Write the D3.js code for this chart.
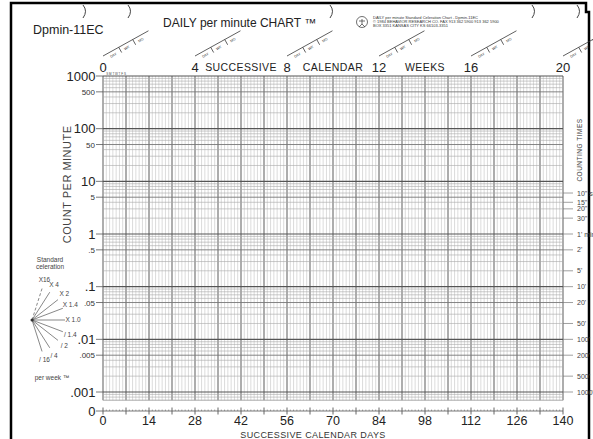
<!DOCTYPE html>
<html>
<head>
<meta charset="utf-8">
<script src="https://cdn.jsdelivr.net/npm/d3@7"></script>
<style>
  body { margin: 0; background: #fff; }
  svg { display: block; font-family: "Liberation Sans", Arial, sans-serif; }
</style>
</head>
<body>
<svg id="chart" width="593" height="439"></svg>
<script>
// chart values
const dayTicks = [0, 14, 28, 42, 56, 70, 84, 98, 112, 126, 140];
const weekTicks = [0, 4, 8, 12, 16, 20];
const weekWords = ["SUCCESSIVE", "CALENDAR", "WEEKS"];
const weekWordAt = [6, 10, 14];
const countMajor = [1000, 100, 10, 1, 0.1, 0.01, 0.001];
const countMajorLabels = ["1000", "100", "10", "1", ".1", ".01", ".001"];
const countMinor = [500, 50, 5, 0.5, 0.05, 0.005];
const countMinorLabels = ["500", "50", "5", ".5", ".05", ".005"];
const countingMinutes = [1 / 6, 1 / 4, 1 / 3, 1 / 2, 1, 2, 5, 10, 20, 50, 100, 200, 500, 1000];
const countingLabels = ['10" sec', '15"', '20"', '30"', "1' min", "2'", "5'", "10'", "20'", "50'", "100'", "200'", "500'", "1000'"];
const celerations = [16, 4, 2, 1.4, 1, 1 / 1.4, 1 / 2, 1 / 4, 1 / 16];
const celerationLabels = ["X16", "X 4", "X 2", "X 1.4", "X 1.0", "/ 1.4", "/ 2", "/ 4", "/ 16"];
const periodLabels = ["DAY", "WK", "MO"];
const recordFloor = 1 / 1440;

const svg = d3.select("#chart");
const x = d3.scaleLinear().domain([0, 140]).range([103, 563]);
const y = d3.scaleLog().domain([0.001, 1000]).range([392, 76]);
const zeroY = 411;
const ink = "#222";

// page border + binder arcs
svg.append("path")
  .attr("d", "M11,439 L11,3 L586,3 L586,12 L589,12 L589,439")
  .attr("fill", "none").attr("stroke", "#000").attr("stroke-width", 2.5);
svg.selectAll("path.arc")
  .data([83, 128, 330, 532, 577])
  .join("path")
  .attr("class", "arc")
  .attr("d", (d) => `M${d},5 Q${d + 5},11 ${d},18`)
  .attr("fill", "none").attr("stroke", "#444").attr("stroke-width", 1);

// titles
svg.append("text").attr("x", 33).attr("y", 34).attr("font-size", 12.5)
  .attr("fill", ink).text("Dpmin-11EC");
svg.append("text").attr("x", 163).attr("y", 27).attr("font-size", 12)
  .attr("fill", ink).text("DAILY per minute CHART \u2122");

// publisher block
const logo = svg.append("g").attr("transform", "translate(362,22)")
  .attr("fill", "none").attr("stroke", "#333").attr("stroke-width", 0.7);
logo.append("circle").attr("r", 5.5);
logo.append("path").attr("d", "M0,-3 L0,2 M-3,-1 L3,-1 M0,2 L-3,5 M0,2 L3,5");
svg.selectAll("text.pub")
  .data([
    "DAILY per minute Standard Celeration Chart - Dpmin-11EC",
    "\u00a9 1984 BEHAVIOR RESEARCH CO. FAX 913 362 5900 913 362 5900",
    "BOX 3351 KANSAS CITY KS 66103-3351",
  ])
  .join("text")
  .attr("class", "pub")
  .attr("x", 373).attr("y", (d, i) => 19 + i * 4.2)
  .attr("font-size", 4).attr("fill", "#333").text((d) => d);

// period finder marks above each 4 weeks
const finder = svg.selectAll("g.finder")
  .data(weekTicks)
  .join("g")
  .attr("class", "finder")
  .attr("transform", (w) => `translate(${x(w * 7)},56) rotate(-29)`);
finder.append("line").attr("x1", 0).attr("x2", 52)
  .attr("stroke", "#333").attr("stroke-width", 0.7);
finder.selectAll("line.tk").data([18, 34]).join("line").attr("class", "tk")
  .attr("x1", (d) => d).attr("x2", (d) => d).attr("y1", 0).attr("y2", 6)
  .attr("stroke", "#333").attr("stroke-width", 0.7);
finder.selectAll("text").data(periodLabels).join("text")
  .attr("x", (d, i) => 6 + i * 16).attr("y", 5.5)
  .attr("font-size", 3.5).attr("fill", "#333").text((d) => d);

// week labels on top
svg.selectAll("text.week")
  .data(weekTicks)
  .join("text")
  .attr("class", "week")
  .attr("x", (w) => x(w * 7)).attr("y", 72)
  .attr("text-anchor", "middle").attr("font-size", 13).attr("fill", ink)
  .text((w) => w);
svg.selectAll("text.weekword")
  .data(weekWords)
  .join("text")
  .attr("class", "weekword")
  .attr("x", (d, i) => x(weekWordAt[i] * 7)).attr("y", 71)
  .attr("text-anchor", "middle").attr("font-size", 10.5).attr("fill", ink)
  .attr("letter-spacing", 0.4)
  .text((d) => d);
// tiny weekday initials at the first day columns
svg.append("text").attr("x", x(1)).attr("y", 75).attr("font-size", 3)
  .attr("fill", "#444").text("S M T W T F S");

// grid
const grid = svg.append("g");
const days = d3.range(0, 141);
grid.selectAll("line.v")
  .data(days)
  .join("line")
  .attr("class", "v")
  .attr("x1", (d) => x(d)).attr("x2", (d) => x(d))
  .attr("y1", y(1000)).attr("y2", y(recordFloor))
  .attr("stroke", (d) => (d % 7 === 0 ? "#6a6a6a" : "#c2c2c2"))
  .attr("stroke-width", (d) => (d % 7 === 0 ? 1.1 : 0.6));

const rows = [];
for (let e = -4; e <= 2; e++) {
  for (let m = 1; m <= 9; m++) {
    const v = m * Math.pow(10, e);
    if (v >= recordFloor) rows.push({ v, m });
  }
}
rows.push({ v: 1000, m: 1 });
rows.push({ v: recordFloor, m: 0 });
grid.selectAll("line.h")
  .data(rows)
  .join("line")
  .attr("class", "h")
  .attr("x1", x(0)).attr("x2", x(140))
  .attr("y1", (d) => y(d.v)).attr("y2", (d) => y(d.v))
  .attr("stroke", (d) => (d.m === 1 ? "#555" : d.m === 5 ? "#777" : "#a8a8a8"))
  .attr("stroke-width", (d) => (d.m === 1 ? 1.2 : d.m === 5 ? 0.9 : 0.6));

// left axis
svg.selectAll("line.ltick")
  .data(countMajor.concat(countMinor))
  .join("line")
  .attr("class", "ltick")
  .attr("x1", 96).attr("x2", x(0))
  .attr("y1", (d) => y(d)).attr("y2", (d) => y(d))
  .attr("stroke", "#555").attr("stroke-width", 0.8);
svg.selectAll("text.major")
  .data(countMajor)
  .join("text")
  .attr("class", "major")
  .attr("x", 95.5).attr("y", (d) => y(d) + 4.7)
  .attr("text-anchor", "end").attr("font-size", 13).attr("fill", ink)
  .text((d, i) => countMajorLabels[i]);
svg.selectAll("text.minor")
  .data(countMinor)
  .join("text")
  .attr("class", "minor")
  .attr("x", 95).attr("y", (d) => y(d) + 3)
  .attr("text-anchor", "end").attr("font-size", 8).attr("fill", "#333")
  .text((d, i) => countMinorLabels[i]);
svg.append("text")
  .attr("transform", `translate(71,${y(10) + 3}) rotate(-90)`)
  .attr("text-anchor", "middle").attr("font-size", 11).attr("fill", "#444")
  .attr("letter-spacing", 0.5)
  .text("COUNT PER MINUTE");

// zero row and bottom day axis
svg.append("text").attr("x", 95.5).attr("y", zeroY + 4.7)
  .attr("text-anchor", "end").attr("font-size", 13).attr("fill", ink).text("0");
svg.append("line").attr("x1", 96).attr("x2", x(140))
  .attr("y1", zeroY).attr("y2", zeroY)
  .attr("stroke", "#555").attr("stroke-width", 0.8);
svg.selectAll("line.dtick")
  .data(days)
  .join("line")
  .attr("class", "dtick")
  .attr("x1", (d) => x(d)).attr("x2", (d) => x(d))
  .attr("y1", (d) => (d % 7 === 0 ? zeroY - 3.5 : zeroY - 1.5))
  .attr("y2", (d) => (d % 7 === 0 ? zeroY + 3.5 : zeroY))
  .attr("stroke", "#555").attr("stroke-width", (d) => (d % 7 === 0 ? 0.9 : 0.5));
svg.selectAll("text.day")
  .data(dayTicks)
  .join("text")
  .attr("class", "day")
  .attr("x", (d) => x(d)).attr("y", 425)
  .attr("text-anchor", "middle").attr("font-size", 12.5).attr("fill", ink)
  .text((d) => d);
svg.append("text").attr("x", 313).attr("y", 437.5)
  .attr("text-anchor", "middle").attr("font-size", 9).attr("fill", "#333")
  .attr("letter-spacing", 0.4)
  .text("SUCCESSIVE CALENDAR DAYS");

// right counting times
svg.selectAll("line.rtick")
  .data(countingMinutes)
  .join("line")
  .attr("class", "rtick")
  .attr("x1", x(140)).attr("x2", x(140) + 10)
  .attr("y1", (t) => y(1 / t)).attr("y2", (t) => y(1 / t))
  .attr("stroke", "#777").attr("stroke-width", 0.7);
svg.selectAll("text.ct")
  .data(countingMinutes)
  .join("text")
  .attr("class", "ct")
  .attr("x", 577).attr("y", (t) => y(1 / t) + 2.5)
  .attr("font-size", 7).attr("fill", "#444")
  .text((t, i) => countingLabels[i]);
svg.append("text")
  .attr("transform", `translate(582,150) rotate(-90)`)
  .attr("text-anchor", "middle").attr("font-size", 6.5).attr("fill", "#444")
  .attr("letter-spacing", 0.5)
  .text("COUNTING TIMES");

// standard celeration fan (drawn a little steeper, as printed)
const fanX = 32, fanY = 320;
const fanWeekPx = (x(7) - x(0)) * 0.88;
const fan = svg.append("g");
const fanAngle = (c) => Math.atan2(y(1) - y(c), fanWeekPx);
fan.selectAll("line")
  .data(celerations)
  .join("line")
  .attr("x1", fanX).attr("y1", fanY)
  .attr("x2", (c) => fanX + 33 * Math.cos(fanAngle(c)))
  .attr("y2", (c) => fanY - 33 * Math.sin(fanAngle(c)))
  .attr("stroke", "#555").attr("stroke-width", 0.7)
  .attr("stroke-dasharray", (c) => (c === 16 ? "3,2" : null));
fan.selectAll("text")
  .data(celerations)
  .join("text")
  .attr("x", (c) => fanX + 41 * Math.cos(fanAngle(c)))
  .attr("y", (c) => fanY - 42 * Math.sin(fanAngle(c)) + 2.3)
  .attr("text-anchor", "middle").attr("font-size", 6.5).attr("fill", "#444")
  .text((c, i) => celerationLabels[i]);
fan.append("circle").attr("cx", fanX).attr("cy", fanY).attr("r", 1.5).attr("fill", "#333");
svg.selectAll("text.std")
  .data(["Standard", "celeration"])
  .join("text")
  .attr("class", "std")
  .attr("x", 50).attr("y", (d, i) => 262 + i * 7)
  .attr("text-anchor", "middle").attr("font-size", 6.5).attr("fill", "#444")
  .text((d) => d);
svg.append("text").attr("x", 52).attr("y", 380)
  .attr("text-anchor", "middle").attr("font-size", 6.5).attr("fill", "#444")
  .text("per week \u2122");
</script>
</body>
</html>
